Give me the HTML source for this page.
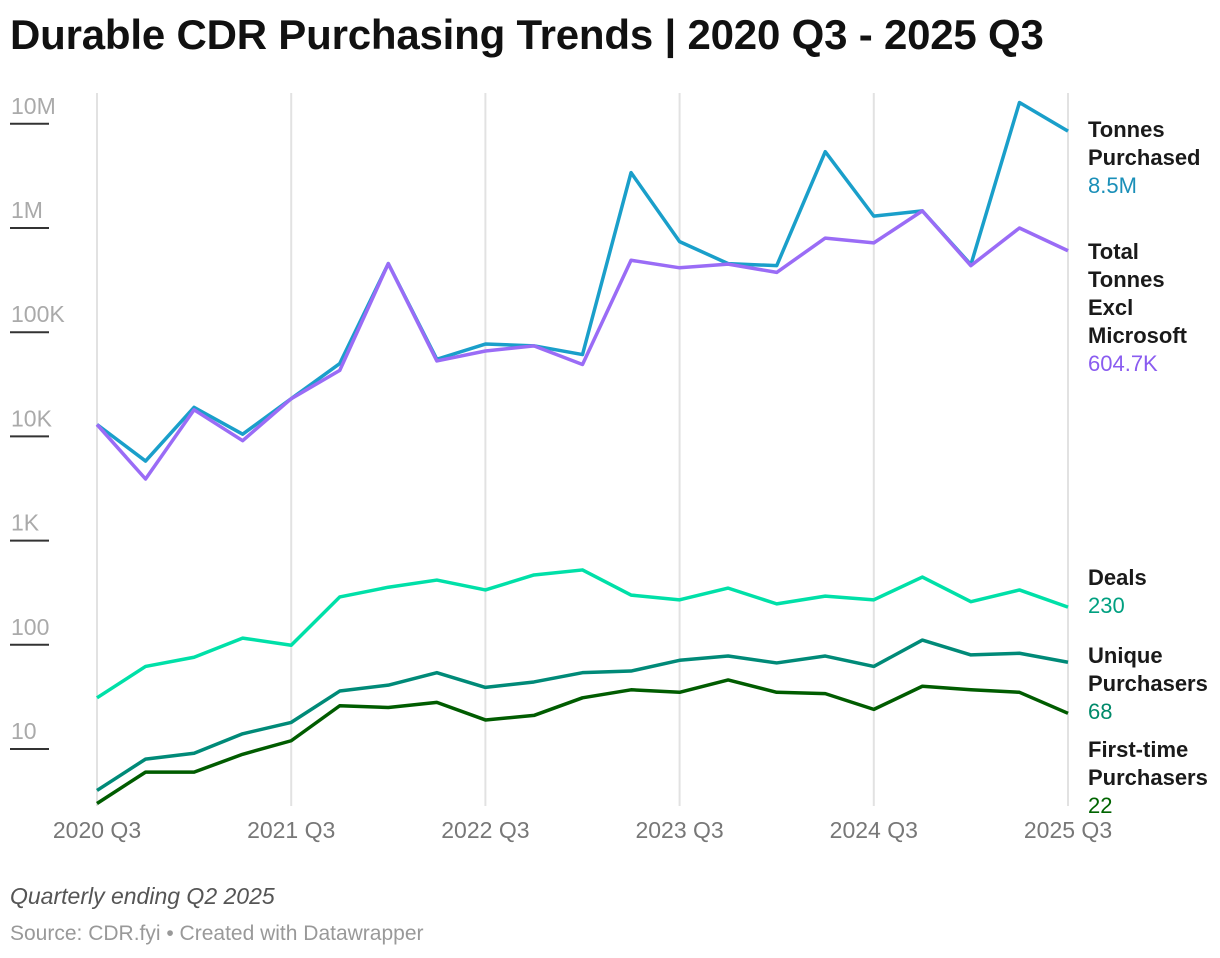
<!DOCTYPE html>
<html><head><meta charset="utf-8"><style>
body{margin:0;background:#fff;font-family:"Liberation Sans",sans-serif;}
#wrap{position:relative;width:1220px;height:958px;overflow:hidden;}
h1{position:absolute;left:10px;top:11px;margin:0;font-size:42px;font-weight:bold;color:#111;letter-spacing:-0.2px;}
.note{position:absolute;left:10px;font-size:23px;color:#555;}
</style></head><body>
<div id="wrap">
<h1>Durable CDR Purchasing Trends | 2020 Q3 - 2025 Q3</h1>
<svg id="chart" width="1220" height="958" style="position:absolute;left:0;top:0"></svg>
<div class="note" style="top:883px;font-style:italic;">Quarterly ending Q2 2025</div>
<div class="note" style="top:922px;font-size:21px;color:#999;">Source: CDR.fyi • Created with Datawrapper</div>
</div>
<script>
const quarters = ["2020 Q3","","","","2021 Q3","","","","2022 Q3","","","","2023 Q3","","","","2024 Q3","","","","2025 Q3"];
const xTickLabels = ["2020 Q3","2021 Q3","2022 Q3","2023 Q3","2024 Q3","2025 Q3"];
const yTickValues = [10,100,1000,10000,100000,1000000,10000000];
const yTickLabels = ["10","100","1K","10K","100K","1M","10M"];
const tonnesPurchased = [13000,5800,19000,10500,23000,50000,455000,55000,77000,74000,61000,3400000,740000,455000,435000,5400000,1300000,1460000,445000,16000000,8500000];
const tonnesExclMicrosoft = [13000,3900,18000,9100,23000,43000,455000,53000,66000,74000,49000,490000,415000,450000,375000,800000,720000,1460000,435000,1000000,604700];
const deals = [31,62,76,116,99,288,357,418,336,468,523,300,270,350,247,293,270,447,259,336,230];
const uniquePurchasers = [4,8,9.1,14,18,36,41,54,39,44,54,56,71,78,67,78,62,111,80,83,68];
const firstTimePurchasers = [3,6,6,8.9,12,26,25,28,19,21,31,37,35,46,35,34,24,40,37,35,22];

const NS="http://www.w3.org/2000/svg";
const svg=document.getElementById('chart');
const x0=97,x1=1068,yBase=749,decade=104.2;
function xs(i){return x0+(x1-x0)*i/(quarters.length-1);}
function ys(v){return yBase-(Math.log10(v)-1)*decade;}
function mk(tag,attrs){const e=document.createElementNS(NS,tag);for(const k in attrs)e.setAttribute(k,attrs[k]);svg.appendChild(e);return e;}

xTickLabels.forEach((lab,j)=>{
  const i=quarters.indexOf(lab);
  const g=mk('line',{x1:xs(i),x2:xs(i),y1:93,y2:806,stroke:'#e2e2e2','stroke-width':2});
  
  
  const t=mk('text',{x:xs(i),y:838,'text-anchor':'middle','font-size':23,fill:'#777','font-family':'Liberation Sans, sans-serif'});
  t.textContent=lab;
  
  
});
yTickValues.forEach((v,j)=>{
  const y=ys(v);
  const l=mk('line',{x1:10,x2:49,y1:y,y2:y,stroke:'#333','stroke-width':2});
  
  
  const t=mk('text',{x:11,y:y-10,'font-size':23,fill:'#aaa','font-family':'Liberation Sans, sans-serif'});
  t.textContent=yTickLabels[j];
  
  
});
function series(data,color,name){
  const p=mk('polyline',{points:data.map((v,i)=>xs(i)+','+ys(v)).join(' '),fill:'none',stroke:color,'stroke-width':3.5,'stroke-linejoin':'round'});
  
  
}
series(tonnesPurchased,'#1a9fca','tonnes-purchased-line');
series(tonnesExclMicrosoft,'#9a6cf6','tonnes-excl-microsoft-line');
series(deals,'#00e0a8','deals-line');
series(uniquePurchasers,'#008a78','unique-purchasers-line');
series(firstTimePurchasers,'#005c00','first-time-purchasers-line');

function label(lines,val,color,top,name){
  const t=mk('text',{x:1088,y:top,'font-size':22,'font-family':'Liberation Sans, sans-serif'});
  
  
  lines.forEach((ln,k)=>{const s=document.createElementNS(NS,'tspan');s.setAttribute('x',1088);s.setAttribute('dy',k?28:0);s.setAttribute('font-weight','bold');s.setAttribute('fill','#1a1a1a');s.textContent=ln;t.appendChild(s);});
  const s=document.createElementNS(NS,'tspan');s.setAttribute('x',1088);s.setAttribute('dy',28);s.setAttribute('fill',color);s.textContent=val;t.appendChild(s);
}
label(["Tonnes","Purchased"],"8.5M","#1a8fb8",137,'tonnes-purchased-label');
label(["Total","Tonnes","Excl","Microsoft"],"604.7K","#8a5cf0",259,'tonnes-excl-microsoft-label');
label(["Deals"],"230","#00a080",585,'deals-label');
label(["Unique","Purchasers"],"68","#008a6a",663,'unique-purchasers-label');
label(["First-time","Purchasers"],"22","#006400",757,'first-time-purchasers-label');
</script>
</body></html>
